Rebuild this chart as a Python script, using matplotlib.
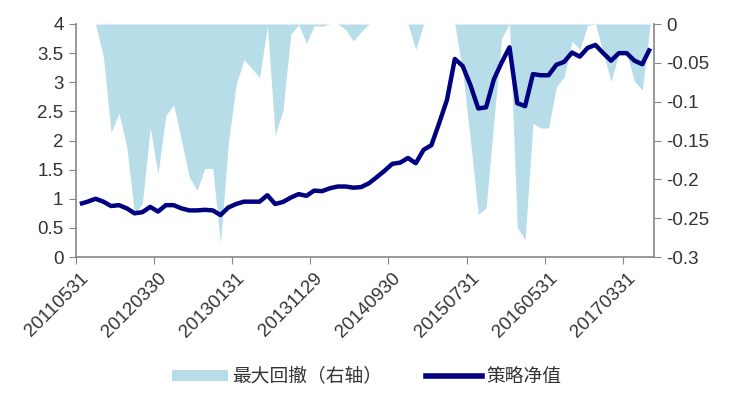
import numpy as np
import matplotlib.pyplot as plt
from matplotlib.patches import Patch
from matplotlib.lines import Line2D

plt.rcParams['font.family'] = ['Liberation Sans', 'Noto Sans CJK SC']
plt.rcParams['axes.unicode_minus'] = False
plt.rcParams.update({'font.size': 13.5})

# monthly data, 2011-05 .. 2017-06
nav = [0.91, 0.95, 1.00, 0.95, 0.875, 0.89, 0.835, 0.75, 0.77, 0.86,
       0.78, 0.89, 0.89, 0.835, 0.80, 0.80, 0.81, 0.80, 0.72, 0.85,
       0.91, 0.95, 0.95, 0.95, 1.06, 0.91, 0.945, 1.02, 1.08, 1.05,
       1.14, 1.13, 1.18, 1.21, 1.21, 1.19, 1.20, 1.265, 1.37, 1.48,
       1.60, 1.62, 1.70, 1.61, 1.84, 1.92, 2.30, 2.70, 3.40, 3.28,
       2.95, 2.55, 2.57, 3.05, 3.34, 3.60, 2.64, 2.59, 3.14, 3.12,
       3.12, 3.30, 3.35, 3.51, 3.44, 3.59, 3.64, 3.50, 3.37, 3.50,
       3.50, 3.37, 3.31, 3.58]

drawdown = [0, 0, 0, -0.042, -0.140, -0.115, -0.158, -0.245, -0.231, -0.134,
            -0.193, -0.118, -0.104, -0.150, -0.197, -0.214, -0.186, -0.186, -0.282, -0.154,
            -0.078, -0.046, -0.057, -0.069, -0.003, -0.143, -0.111, -0.013, -0.001, -0.025,
            -0.002, -0.003, 0, 0, -0.007, -0.022, -0.010, 0, 0, 0,
            0, 0, 0, -0.033, 0, 0, 0, 0, 0, -0.062,
            -0.150, -0.245, -0.237, -0.125, -0.018, 0, -0.262, -0.278, -0.128, -0.134,
            -0.134, -0.081, -0.068, -0.022, -0.033, -0.002, 0, -0.037, -0.074, -0.038,
            -0.038, -0.074, -0.085, -0.002]

date_labels = ['20110531', '20120330', '20130131', '20131129',
               '20140930', '20150731', '20160531', '20170331']

left_ticks = [0, 0.5, 1, 1.5, 2, 2.5, 3, 3.5, 4]
right_ticks = [-0.3, -0.25, -0.2, -0.15, -0.1, -0.05, 0]

x = np.arange(len(nav))
grey = '#868686'
text_color = '#333333'

fig = plt.figure(figsize=(7.29, 3.99), dpi=100)
ax = fig.add_axes([76/729, 142/399, 578/729, 233/399])
ax2 = ax.twinx()

ax2.fill_between(x, drawdown, 0, color='#B7DEE8', lw=0)
ax.plot(x, nav, color='#000080', lw=3.2, solid_joinstyle='round', solid_capstyle='butt')

ax.set_zorder(ax2.get_zorder() + 1)
ax.patch.set_visible(False)

ax.set_xlim(-0.5, len(nav) - 0.5)
ax.set_ylim(0, 4)
ax2.set_ylim(-0.3, 0)

ax.set_yticks(left_ticks)
ax.set_yticklabels([f'{v:g}' for v in left_ticks])
ax2.set_yticks(right_ticks)
ax2.set_yticklabels([f'{v:g}' for v in right_ticks])

# tick marks between categories, labels on the categories
ax.set_xticks(np.arange(-0.5, len(nav) - 0.5, 10))
ax.set_xticklabels([])
ax.set_xticks(np.arange(0, len(nav), 10), minor=True)
ax.set_xticklabels(date_labels, minor=True, rotation=45, ha='right',
                   rotation_mode='anchor')
ax.tick_params(axis='x', which='minor', length=0, pad=9, labelcolor=text_color)
ax.tick_params(axis='x', which='major', length=5, color=grey, direction='out')
ax.tick_params(axis='y', length=5, color=grey, labelcolor=text_color, pad=4)
ax2.tick_params(axis='y', length=5, color=grey, labelcolor=text_color, pad=4)

for a in (ax, ax2):
    for s in a.spines.values():
        s.set_visible(False)
ax.spines['left'].set_visible(True)
ax.spines['bottom'].set_visible(True)
ax2.spines['right'].set_visible(True)
for s in (ax.spines['left'], ax.spines['bottom'], ax2.spines['right']):
    s.set_color(grey)
    s.set_linewidth(1.2)

handles = [Patch(facecolor='#B7DEE8', edgecolor='none'),
           Line2D([], [], color='#000080', lw=4)]
fig.legend(handles, ['最大回撤（右轴）', '策略净值'], loc='center',
           bbox_to_anchor=(0.503, 0.055), ncol=2, frameon=False,
           handlelength=3.0, handleheight=0.55, handletextpad=0.25,
           columnspacing=2.3, labelcolor=text_color)

fig.savefig('out.png', dpi=100)
